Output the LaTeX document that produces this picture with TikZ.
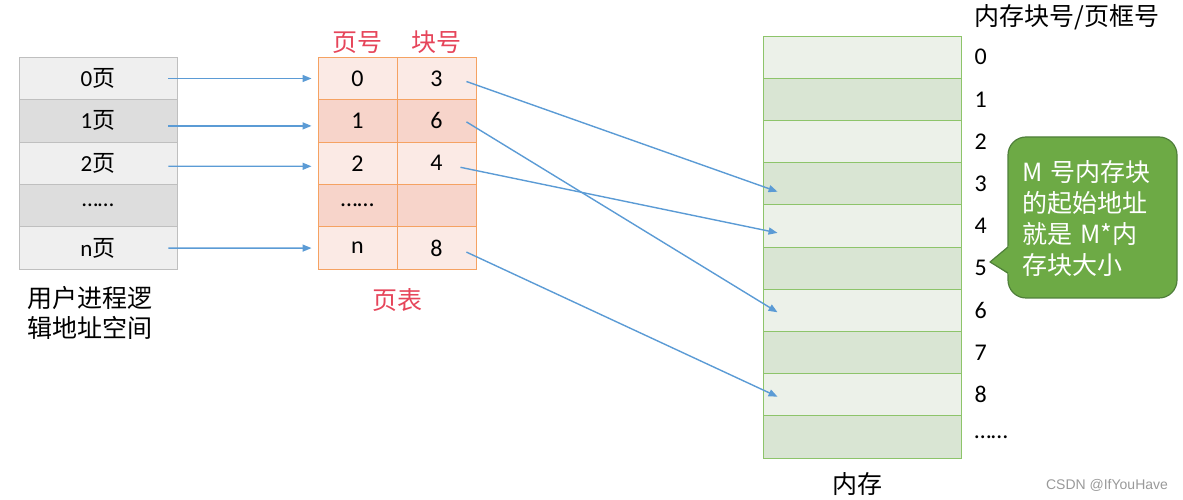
\documentclass[tikz,border=0pt]{standalone}
\usepackage{fontspec}
\setmainfont{Noto Sans CJK SC}
\newfontfamily\latinfont{Carlito}
\newfontfamily\markfont{Liberation Sans}
\usetikzlibrary{arrows.meta,positioning,calc}

\definecolor{grayLite}{HTML}{EFEFEF}
\definecolor{grayDark}{HTML}{DDDDDD}
\definecolor{lineGray}{HTML}{BFBFBF}
\definecolor{pinkLite}{HTML}{FBEAE5}
\definecolor{pinkDark}{HTML}{F7D4CA}
\definecolor{lineOrange}{HTML}{F5A262}
\definecolor{headRed}{HTML}{E6455A}
\definecolor{greenLite}{HTML}{ECF1E9}
\definecolor{greenDark}{HTML}{D9E5D3}
\definecolor{lineGreen}{HTML}{8DC46A}
\definecolor{calloutGreen}{HTML}{6DAA45}
\definecolor{calloutEdge}{HTML}{4F7F3A}
\definecolor{arrowBlue}{HTML}{5B9BD5}

\begin{document}
\begin{tikzpicture}[x=1pt,y=1pt,
  cell/.style={draw, line width=0.9pt, inner sep=0pt, minimum height=42.4pt, font=\fontsize{23}{28}\selectfont},
  lcell/.style={cell, draw=lineGray, minimum width=158pt},
  pcell/.style={cell, draw=lineOrange, minimum width=79pt, font=\latinfont\fontsize{24}{28}\selectfont},
  mcell/.style={cell, draw=lineGreen, minimum width=198pt, minimum height=42.2pt},
  numtext/.style={inner sep=0pt, font=\latinfont\fontsize{24}{28}\selectfont},
  titletext/.style={font=\fontsize{25}{30}\selectfont},
  link/.style={-{Triangle[length=9pt,width=7pt]}, line width=1.4pt, draw=arrowBlue}]
  \useasboundingbox (0,0) rectangle (1183,500); % 画面の大きさ

  % 用户进程逻辑地址空间
  \node[lcell, fill=grayLite] (l0) at (98,421.5) {{\latinfont 0}页};
  \node[lcell, fill=grayDark] (l1) at (98,379.1) {{\latinfont 1}页};
  \node[lcell, fill=grayLite] (l2) at (98,336.7) {{\latinfont 2}页};
  \node[lcell, fill=grayDark] (l3) at (98,294.3) {\latinfont ……};
  \node[lcell, fill=grayLite] (l4) at (98,251.9) {{\latinfont n}页};
  \node[titletext, align=left, anchor=west] (userspace) at (24,187) {用户进程逻\\辑地址空间};

  % 页表
  \foreach \i/\p/\b/\c in {0/0/3/pinkLite,1/1/6/pinkDark,2/2/4/pinkLite,3/……/ /pinkDark,4/n/8/pinkLite}{
    \node[pcell, fill=\c] (p\i) at (357.5,421.5-42.4*\i) {\p};
    \node[pcell, fill=\c] (b\i) at (436.5,421.5-42.4*\i) {\b};
  }
  \node[titletext, text=headRed, above=0pt of p0] (pagehead) {页号};
  \node[titletext, text=headRed, above=0pt of b0] (blockhead) {块号};
  \node[titletext, text=headRed] (pagetable) at (397,200) {页表};

  % 内存
  \foreach \i/\t/\c in {0/0/greenLite,1/1/greenDark,2/2/greenLite,3/3/greenDark,4/4/greenLite,
                        5/5/greenDark,6/6/greenLite,7/7/greenDark,8/8/greenLite,9/……/greenDark}{
    \node[mcell, fill=\c] (m\i) at (862,442.9-42.2*\i) {};
    \node[numtext, right=13pt of m\i.east] (n\i) {\t};
  }
  \node[titletext, anchor=west] (memhead) at (971,483) {内存块号/页框号};
  \node[titletext] (memory) at (857,16) {内存};

  % 逻辑页 -> 页表
  \draw[link] ([xshift=-9pt]l0.east) -- ([xshift=-6pt]p0.west);
  \draw[link] ([xshift=-9pt,yshift=-5pt]l1.east) -- ([xshift=-6pt,yshift=-5pt]p1.west);
  \draw[link] ([xshift=-9pt,yshift=-3pt]l2.east) -- ([xshift=-6pt,yshift=-3pt]p2.west);
  \draw[link] ([xshift=-9pt]l4.east) -- ([xshift=-6pt]p4.west);

  % 块号 -> 内存块
  \draw[link] ([xshift=-10pt,yshift=-3pt]b0.east) -- ([xshift=15pt,yshift=-8pt]m3.west);
  \draw[link] ([xshift=-10pt,yshift=-1pt]b1.east) -- ([xshift=15pt,yshift=-2pt]m6.west);
  \draw[link] ([xshift=-16pt,yshift=-4pt]b2.east) -- ([xshift=15pt,yshift=-7pt]m4.west);
  \draw[link] ([xshift=-10pt,yshift=-4pt]b4.east) -- ([xshift=15pt,yshift=-2pt]m8.west);

  % 说明框
  \draw[fill=calloutGreen, draw=calloutEdge, line width=1.2pt, rounded corners=18pt] (1008,202) rectangle (1177,363);
  \fill[calloutGreen] (990,238) -- (1011,256) -- (1011,224) -- cycle;
  \draw[draw=calloutEdge, line width=1.2pt, line join=round] (1008,253) -- (990,238) -- (1008,227);
  \node[text=white, inner sep=0pt, text width=150pt, align=left,
        font=\fontsize{25}{31}\selectfont] (note) at (1097,281) {M 号内存块\\的起始地址\\就是 M*内\\存块大小};

  \node[text=black!40, font=\markfont\fontsize{14}{16}\selectfont] (mark) at (1107,15) {CSDN @IfYouHave};
\end{tikzpicture}
\end{document}
